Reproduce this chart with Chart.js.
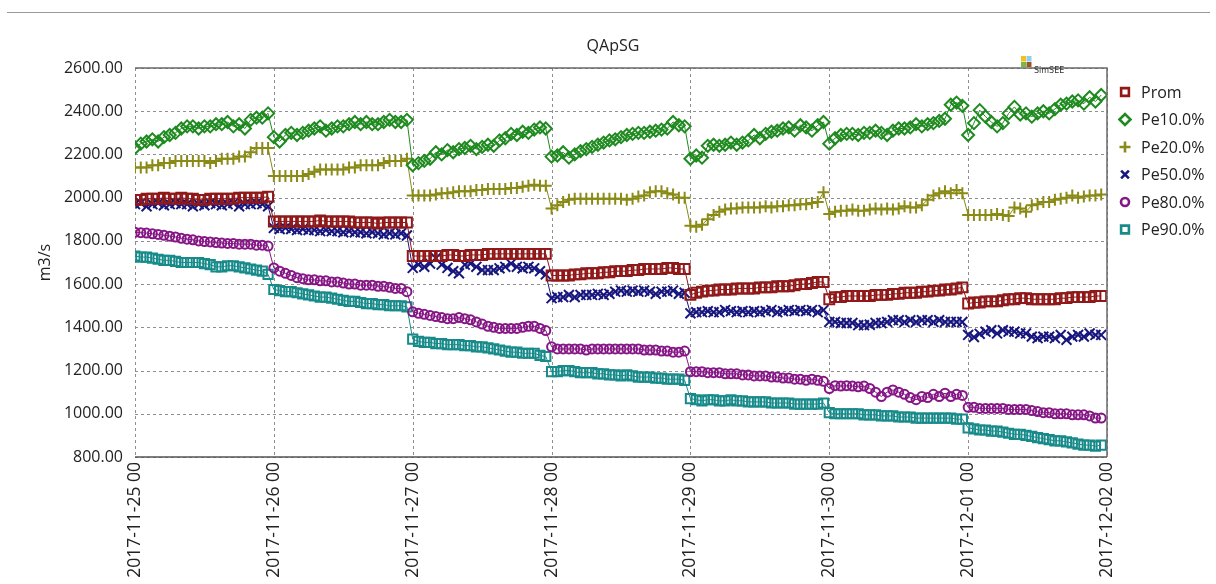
<!DOCTYPE html>
<html><head><meta charset="utf-8">
<script src="https://cdn.jsdelivr.net/npm/chart.js@4.4.1/dist/chart.umd.min.js"></script>
<style>
html,body{margin:0;padding:0;background:#fff;}
#wrap{position:relative;width:1216px;height:584px;overflow:hidden;}
#topline{position:absolute;left:7px;top:12px;width:1203px;height:1px;background:#9a9a9a;}
</style></head><body>
<div id="wrap"><canvas id="c" width="1216" height="584"></canvas><div id="topline"></div></div>
<script>
const chartTitle = 'QApSG';
const yAxisTitle = 'm3/s';
const dayLabels = ['2017-11-25 00','2017-11-26 00','2017-11-27 00','2017-11-28 00','2017-11-29 00','2017-11-30 00','2017-12-01 00','2017-12-02 00'];
const seriesNames = ['Prom','Pe10.0%','Pe20.0%','Pe50.0%','Pe80.0%','Pe90.0%'];

const prom = [
1990,1990,1995,1995,1995,2000,1995,1995,2000,1995,1995,1990,1990,1995,1995,1995,1995,1995,2000,2000,2000,2000,2000,2005,
1890,1890,1890,1890,1890,1890,1890,1890,1895,1890,1890,1890,1890,1890,1885,1885,1885,1885,1880,1885,1885,1885,1885,1885,
1730,1730,1730,1730,1730,1730,1735,1735,1730,1730,1735,1735,1735,1740,1740,1740,1740,1740,1740,1740,1740,1740,1740,1740,
1640,1640,1640,1640,1645,1645,1650,1650,1650,1655,1655,1660,1660,1660,1665,1665,1670,1670,1670,1670,1675,1675,1670,1670,
1550,1560,1565,1570,1570,1575,1575,1575,1580,1580,1580,1580,1585,1585,1585,1590,1590,1590,1595,1600,1600,1605,1610,1610,
1530,1540,1540,1545,1545,1545,1545,1545,1550,1550,1550,1555,1555,1560,1560,1560,1565,1565,1570,1570,1575,1575,1580,1585,
1510,1515,1515,1520,1520,1520,1525,1530,1530,1535,1535,1530,1530,1530,1530,1530,1535,1535,1540,1540,1540,1540,1545,1545];

const pe10 = [
2230,2250,2260,2270,2260,2280,2290,2300,2320,2330,2330,2320,2330,2330,2340,2340,2350,2330,2340,2320,2360,2370,2370,2390,
2280,2260,2290,2300,2290,2300,2310,2320,2330,2310,2320,2330,2330,2340,2350,2340,2350,2340,2340,2350,2360,2350,2350,2360,
2150,2160,2170,2180,2210,2200,2220,2210,2225,2230,2240,2225,2235,2245,2240,2265,2275,2295,2290,2305,2300,2315,2325,2320,
2190,2195,2210,2185,2200,2215,2225,2235,2245,2255,2265,2270,2280,2290,2295,2300,2300,2305,2310,2315,2320,2350,2335,2330,
2180,2195,2185,2240,2245,2240,2245,2255,2245,2255,2265,2290,2275,2295,2305,2310,2320,2325,2310,2335,2325,2310,2335,2350,
2250,2275,2290,2295,2295,2290,2300,2300,2310,2300,2290,2310,2320,2320,2325,2340,2330,2340,2345,2355,2365,2430,2440,2425,
2290,2345,2405,2375,2350,2330,2345,2390,2420,2385,2390,2375,2390,2400,2390,2410,2430,2435,2445,2450,2435,2465,2445,2475];

const pe20 = [
2140,2140,2140,2150,2150,2160,2160,2170,2170,2170,2170,2170,2170,2160,2170,2180,2180,2180,2190,2190,2210,2230,2230,2230,
2100,2100,2100,2100,2100,2100,2110,2120,2130,2130,2130,2130,2130,2140,2140,2150,2150,2150,2150,2160,2170,2170,2170,2180,
2010,2010,2010,2010,2015,2020,2020,2025,2030,2030,2030,2035,2035,2040,2040,2040,2040,2045,2045,2050,2055,2060,2055,2055,
1950,1965,1980,1990,1995,1995,1995,1995,1995,1995,1995,1995,1995,1990,1995,2005,2010,2025,2030,2030,2020,2015,2000,2000,
1870,1865,1875,1900,1920,1935,1945,1950,1950,1955,1955,1955,1955,1960,1955,1960,1960,1965,1965,1970,1970,1975,1980,2025,
1925,1935,1940,1940,1945,1940,1940,1945,1950,1945,1950,1945,1950,1960,1955,1955,1965,1990,2010,2020,2030,2020,2035,2020,
1920,1920,1920,1920,1920,1925,1920,1915,1955,1950,1935,1965,1970,1980,1980,1990,1995,2000,2010,2000,2005,2010,2010,2015];

const pe50 = [
1970,1975,1960,1970,1975,1965,1970,1975,1970,1970,1960,1970,1965,1975,1970,1965,1970,1975,1960,1970,1970,1975,1970,1960,
1860,1855,1860,1855,1850,1855,1850,1850,1845,1850,1845,1845,1840,1845,1840,1840,1835,1840,1835,1830,1835,1830,1835,1825,
1675,1690,1680,1695,1720,1690,1675,1660,1650,1690,1695,1680,1665,1665,1665,1673,1680,1695,1680,1673,1680,1673,1660,1645,
1535,1540,1540,1550,1540,1550,1550,1550,1555,1550,1555,1565,1570,1565,1570,1565,1570,1565,1555,1565,1565,1570,1555,1560,
1465,1470,1470,1475,1470,1470,1480,1475,1470,1475,1470,1475,1470,1475,1480,1470,1475,1480,1475,1480,1475,1480,1470,1480,
1425,1425,1420,1420,1420,1410,1410,1412,1420,1420,1425,1433,1433,1425,1433,1425,1433,1433,1425,1433,1425,1425,1425,1425,
1365,1355,1370,1380,1387,1372,1387,1380,1380,1372,1372,1357,1350,1357,1357,1350,1365,1342,1357,1365,1357,1372,1365,1365];

const pe80 = [
1840,1838,1836,1833,1830,1826,1822,1818,1812,1808,1805,1800,1797,1795,1792,1790,1788,1788,1785,1785,1785,1780,1780,1776,
1675,1660,1650,1640,1630,1625,1620,1620,1615,1615,1610,1610,1605,1600,1600,1595,1595,1595,1590,1590,1585,1580,1580,1565,
1472,1465,1460,1455,1450,1445,1440,1440,1445,1440,1435,1425,1415,1405,1400,1395,1395,1395,1395,1400,1405,1405,1395,1385,
1310,1300,1300,1300,1300,1300,1295,1300,1300,1300,1300,1300,1300,1300,1300,1300,1295,1295,1295,1290,1290,1285,1285,1290,
1195,1195,1195,1190,1190,1190,1185,1185,1185,1180,1180,1175,1175,1175,1170,1170,1165,1165,1160,1160,1155,1160,1155,1150,
1117,1130,1128,1130,1128,1125,1128,1117,1100,1080,1100,1110,1100,1090,1075,1065,1080,1075,1090,1080,1095,1080,1090,1085,
1030,1030,1025,1025,1025,1025,1025,1020,1020,1020,1020,1015,1010,1005,1005,1000,1000,1000,995,995,995,990,980,980];

const pe90 = [
1730,1725,1725,1720,1715,1710,1710,1705,1700,1700,1700,1700,1695,1690,1680,1680,1685,1685,1680,1675,1670,1665,1660,1645,
1575,1570,1565,1565,1560,1555,1550,1545,1540,1540,1535,1530,1525,1520,1520,1515,1510,1510,1505,1505,1500,1500,1500,1495,
1345,1335,1330,1330,1325,1325,1320,1320,1320,1315,1315,1310,1310,1305,1300,1295,1290,1285,1285,1280,1280,1280,1270,1265,
1195,1195,1200,1200,1195,1190,1190,1190,1185,1185,1180,1180,1175,1180,1175,1170,1170,1170,1165,1165,1160,1160,1160,1155,
1070,1065,1060,1065,1065,1060,1060,1065,1060,1060,1055,1055,1055,1055,1050,1050,1050,1050,1045,1045,1045,1045,1045,1050,
1005,1000,1000,1000,1000,1000,995,995,995,990,990,990,985,985,985,980,980,980,980,980,980,980,975,975,
935,930,925,925,920,920,915,910,905,905,900,895,890,885,880,875,875,870,865,860,855,855,850,855];

const FONT = '"Open Sans", "Noto Sans", sans-serif';
const styles = [
  {color:'#901818', style:'rect', r:7},
  {color:'#1f8a1f', style:'rectRot', r:6},
  {color:'#8a8a16', style:'cross', r:6},
  {color:'#16167e', style:'crossRot', r:7},
  {color:'#861686', style:'circle', r:4.5},
  {color:'#178a8a', style:'rect', r:6.5}
];
const allSeries = [prom, pe10, pe20, pe50, pe80, pe90];

const datasets = allSeries.map((arr, k) => ({
  label: seriesNames[k],
  data: arr.map((v, i) => ({x: i, y: v})),
  borderColor: styles[k].color,
  borderWidth: 1,
  pointStyle: styles[k].style,
  pointRadius: styles[k].r,
  pointBorderWidth: 2,
  pointBorderColor: styles[k].color,
  pointBackgroundColor: 'rgba(0,0,0,0)',
  tension: 0,
  fill: false
}));

const dashedGrid = {
  id: 'dashedGrid',
  beforeDatasetsDraw(chart) {
    const ctx = chart.ctx;
    const a = chart.chartArea;
    const xs = chart.scales.x, ys = chart.scales.y;
    ctx.save();
    ctx.strokeStyle = '#8f8f8f';
    ctx.lineWidth = 1;
    ctx.setLineDash([3, 3]);
    xs.ticks.forEach(t => {
      const px = Math.round(xs.getPixelForValue(t.value)) + 0.5;
      ctx.beginPath(); ctx.moveTo(px, a.top); ctx.lineTo(px, a.bottom); ctx.stroke();
    });
    ys.ticks.forEach(t => {
      const py = Math.round(ys.getPixelForValue(t.value)) + 0.5;
      ctx.beginPath(); ctx.moveTo(a.left, py); ctx.lineTo(a.right, py); ctx.stroke();
    });
    ctx.restore();
  }
};

const extras = {
  id: 'extras',
  afterDraw(chart) {
    const ctx = chart.ctx;
    const a = chart.chartArea;
    ctx.save();
    ctx.setLineDash([]);
    ctx.strokeStyle = '#6a6a6a';
    ctx.lineWidth = 1.5;
    ctx.beginPath();
    ctx.moveTo(a.left, a.top); ctx.lineTo(a.right, a.top); ctx.lineTo(a.right, a.bottom);
    ctx.stroke();
    ctx.strokeStyle = '#555';
    ctx.beginPath(); ctx.moveTo(a.left, a.bottom); ctx.lineTo(a.right, a.bottom); ctx.stroke();
    ctx.fillStyle = '#222';
    ctx.font = '16px ' + FONT;
    ctx.textAlign = 'center';
    ctx.textBaseline = 'middle';
    ctx.fillText(chartTitle, 613, 46);
    ctx.textAlign = 'left';
    chart.data.datasets.forEach((ds, i) => {
      const y = 92 + i * 27.5;
      ctx.strokeStyle = ds.borderColor;
      ctx.fillStyle = 'rgba(0,0,0,0)';
      ctx.lineWidth = 2.6;
      Chart.helpers.drawPoint(ctx, {pointStyle: ds.pointStyle, radius: ds.pointStyle === 'circle' ? 4 : 5.5, borderWidth: 2.6, rotation: 0}, 1125, y);
      ctx.fillStyle = '#222';
      ctx.font = '16px ' + FONT;
      ctx.fillText(ds.label, 1141, y + 1);
    });
    ctx.fillStyle = '#f2c21b'; ctx.fillRect(1021, 56, 5, 5.5);
    ctx.fillStyle = '#8fcdf0'; ctx.fillRect(1026.5, 56, 5, 5.5);
    ctx.fillStyle = '#7ab648'; ctx.fillRect(1021, 62, 5, 5);
    ctx.fillStyle = '#9a5a1c'; ctx.fillRect(1026.5, 62, 5, 5);
    ctx.fillStyle = '#333';
    ctx.font = '8px "DejaVu Sans", sans-serif';
    ctx.textBaseline = 'middle';
    ctx.fillText('SimSEE', 1034, 71);
    ctx.restore();
  }
};

new Chart(document.getElementById('c'), {
  type: 'line',
  data: { datasets },
  options: {
    responsive: false,
    animation: false,
    devicePixelRatio: 1,
    layout: { padding: { top: 68, right: 109, bottom: 0, left: 0 } },
    plugins: { legend: { display: false }, title: { display: false }, tooltip: { enabled: false } },
    scales: {
      x: {
        type: 'linear',
        min: 0, max: 168,
        afterFit(s) { s.height = 127; },
        grid: { display: false, drawTicks: false },
        border: { display: false },
        ticks: {
          stepSize: 24, autoSkip: false, maxRotation: 90, minRotation: 90, padding: 5,
          color: '#222', font: { family: FONT, size: 17.5 },
          callback: (v) => dayLabels[Math.round(v / 24)]
        }
      },
      y: {
        min: 800, max: 2600,
        afterFit(s) { s.width = 135; },
        grid: { display: false, drawTicks: false },
        border: { display: false },
        title: { display: true, text: yAxisTitle, color: '#222', font: { family: FONT, size: 16 }, padding: { top: 36, bottom: 0 } },
        ticks: {
          stepSize: 200, padding: 12, color: '#222', font: { family: FONT, size: 16 },
          callback: (v) => Number(v).toFixed(2)
        }
      }
    }
  },
  plugins: [dashedGrid, extras]
});
</script>
</body></html>
